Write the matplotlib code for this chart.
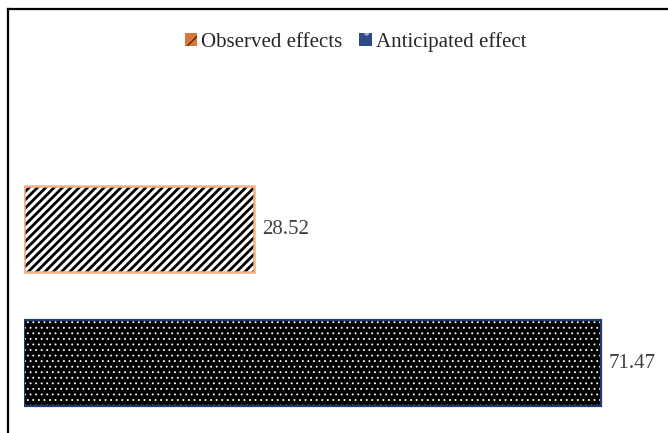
import matplotlib.pyplot as plt
from matplotlib.patches import Patch
from matplotlib.lines import Line2D

categories = ['Anticipated effect', 'Observed effects']
values = [71.47, 28.52]
labels = ['71.47', '28.52']

plt.rcParams['font.family'] = ['Liberation Serif', 'DejaVu Serif']

fig = plt.figure(figsize=(6.68, 4.33), dpi=100)
ax = fig.add_axes([24 / 668, 0, 1 - 24 / 668, 1])

pos = [0, 1]
h = 0.642


def set_hlw(bars, lw):
    for b in bars:
        if hasattr(b, 'set_hatch_linewidth'):
            b.set_hatch_linewidth(lw)


# anticipated: black with white dots, navy border
with plt.rc_context({'hatch.linewidth': 0.6}):
    b1 = ax.barh(pos[0], values[0], height=h, color='black', edgecolor='white',
                 hatch='...', linewidth=0)
set_hlw(b1, 0.6)
ax.barh(pos[0], values[0], height=h, fill=False, edgecolor='#1F3A6E',
        linewidth=1.6)

# observed: white with black stripes, light orange border
with plt.rc_context({'hatch.linewidth': 2.0}):
    b2 = ax.barh(pos[1], values[1], height=h, color='white', edgecolor='black',
                 hatch='////', linewidth=0)
set_hlw(b2, 2.0)
ax.barh(pos[1], values[1], height=h, fill=False, edgecolor='#F4B183',
        linewidth=1.8)

for p, v, t in zip(pos, values, labels):
    ax.text(v + 1.0, p, t, va='center', ha='left', fontsize=15, color='#404040')

ax.set_xlim(0, 644 / 8.073)
ax.set_ylim(-70 / 134, 1 + 229 / 134)
ax.axis('off')

with plt.rc_context({'hatch.linewidth': 0.8}):
    handles = [
        Patch(facecolor='#D9773A', edgecolor='#5A2A0A', hatch='/', linewidth=0),
        Patch(facecolor='#2F4A8A', edgecolor='#9FB0D8', hatch='.', linewidth=0),
    ]
fig.legend(handles, ['Observed effects', 'Anticipated effect'], loc='center',
           bbox_to_anchor=(0.532, 0.903), ncol=2, frameon=False, fontsize=15,
           handlelength=0.6, handleheight=0.6, handletextpad=0.2,
           columnspacing=0.8, labelcolor='#262626')

# outer frame of the chart area
fig.add_artist(Line2D([7.5 / 668, 7.5 / 668], [0, 1 - 8.5 / 433],
                      transform=fig.transFigure, color='black', linewidth=1.6))
fig.add_artist(Line2D([7.5 / 668, 1], [1 - 8.5 / 433, 1 - 8.5 / 433],
                      transform=fig.transFigure, color='black', linewidth=1.6))

fig.savefig('out.png', dpi=100)
